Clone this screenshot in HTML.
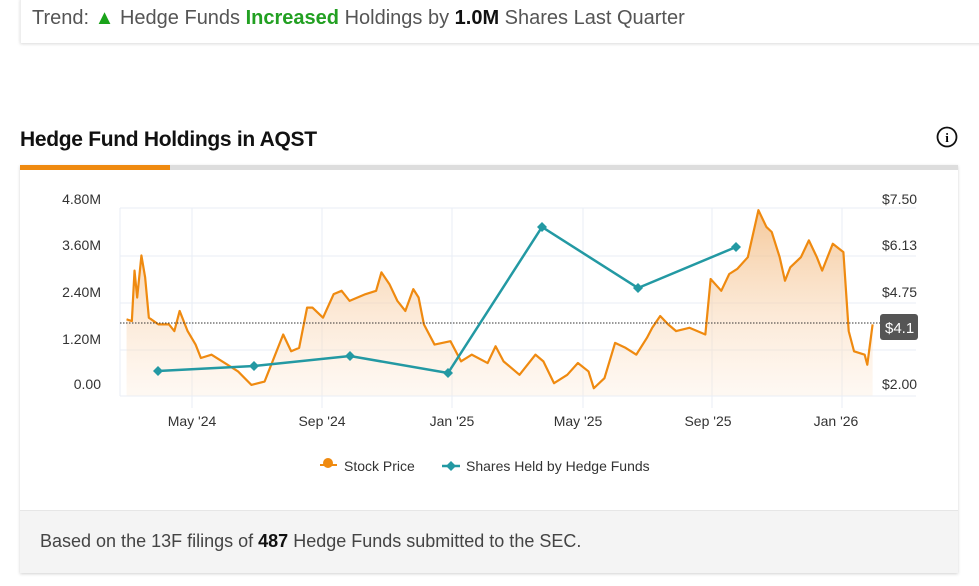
<!DOCTYPE html>
<html><head><style>
body{margin:0;width:979px;height:586px;background:#fff;font-family:"Liberation Sans",sans-serif;position:relative;overflow:hidden}
.top{position:absolute;left:20px;top:-2px;width:980px;height:45px;background:#fff;box-shadow:0 1px 3px rgba(0,0,0,.15);border-left:1px solid #eee}
.top span.t{position:absolute;left:11px;top:9px;font-size:20px;color:#555}
.card{position:absolute;left:20px;top:165px;width:938px;height:408px;background:#fff;box-shadow:0 1px 3px rgba(0,0,0,.18)}
.foot{position:absolute;left:0;bottom:0;width:100%;height:62px;background:#f4f4f4;border-top:1px solid #e6e6e6}
.foot span{position:absolute;left:20px;top:20px;font-size:18px;color:#444}
h2{position:absolute;left:20px;top:128px;margin:0;font-size:21px;font-weight:bold;color:#111;letter-spacing:-0.3px}
</style></head><body>
<div class="top"><span class="t">Trend: <span style="color:#1aa31a">▲</span> Hedge Funds <b style="color:#22a022">Increased</b> Holdings by <b style="color:#111">1.0M</b> Shares Last Quarter</span></div>
<h2>Hedge Fund Holdings in AQST</h2>
<svg style="position:absolute;left:936px;top:126px" width="22" height="22"><circle cx="11" cy="11" r="9.5" fill="none" stroke="#111" stroke-width="1.8"/><text x="11" y="16" text-anchor="middle" font-size="13" font-weight="bold" font-family="Liberation Serif">i</text></svg>
<div class="card"><div class="foot"><span>Based on the 13F filings of <b style="color:#111">487</b> Hedge Funds submitted to the SEC.</span></div></div>
<svg style="position:absolute;left:0;top:0" width="979" height="586" font-family="Liberation Sans">
<defs><linearGradient id="g" x1="0" y1="0" x2="0" y2="1"><stop offset="0" stop-color="#f2b77a" stop-opacity=".75"/><stop offset="1" stop-color="#fde9d6" stop-opacity=".3"/></linearGradient></defs>
<rect x="20" y="165" width="938" height="5" fill="#ddd"/><rect x="20" y="165" width="150" height="5" fill="#ef8a10"/>
<g stroke="#e8eef6" stroke-width="1">
<line x1="120" y1="208" x2="916" y2="208"/><line x1="120" y1="256" x2="916" y2="256"/><line x1="120" y1="303" x2="916" y2="303"/><line x1="120" y1="350" x2="916" y2="350"/><line x1="120" y1="396" x2="916" y2="396"/>
<line x1="120" y1="208" x2="120" y2="396"/><line x1="192" y1="208" x2="192" y2="408"/><line x1="322" y1="208" x2="322" y2="408"/><line x1="452" y1="208" x2="452" y2="408"/><line x1="583" y1="208" x2="583" y2="408"/><line x1="712" y1="208" x2="712" y2="408"/><line x1="842" y1="208" x2="842" y2="408"/>
</g>
<g transform="translate(100,190) scale(0.531,0.336)">
<path fill="url(#g)" d="M50,612 L50,385 60,390 65,240 70,320 78,195 85,260 92,380 110,400 130,400 140,420 150,360 165,420 180,460 190,500 210,490 240,520 260,540 285,580 310,570 320,530 345,430 360,480 375,470 390,350 400,350 420,380 440,310 455,300 470,330 500,310 520,300 530,245 545,280 560,330 575,360 590,295 600,320 610,400 630,460 660,450 680,510 700,490 730,515 745,465 760,510 790,550 820,490 835,510 855,575 880,550 900,515 920,540 930,590 950,560 970,455 990,470 1010,490 1030,440 1040,410 1055,375 1070,400 1085,420 1110,410 1140,430 1150,265 1170,300 1185,250 1200,235 1220,200 1240,60 1255,110 1265,125 1280,200 1290,270 1300,230 1320,200 1335,150 1350,200 1360,240 1380,160 1400,185 1410,420 1420,480 1440,490 1445,520 1455,400 L1455,612Z"/>
<polyline fill="none" stroke="#ef8a10" stroke-width="2.2" vector-effect="non-scaling-stroke" stroke-linejoin="round" points="50,385 60,390 65,240 70,320 78,195 85,260 92,380 110,400 130,400 140,420 150,360 165,420 180,460 190,500 210,490 240,520 260,540 285,580 310,570 320,530 345,430 360,480 375,470 390,350 400,350 420,380 440,310 455,300 470,330 500,310 520,300 530,245 545,280 560,330 575,360 590,295 600,320 610,400 630,460 660,450 680,510 700,490 730,515 745,465 760,510 790,550 820,490 835,510 855,575 880,550 900,515 920,540 930,590 950,560 970,455 990,470 1010,490 1030,440 1040,410 1055,375 1070,400 1085,420 1110,410 1140,430 1150,265 1170,300 1185,250 1200,235 1220,200 1240,60 1255,110 1265,125 1280,200 1290,270 1300,230 1320,200 1335,150 1350,200 1360,240 1380,160 1400,185 1410,420 1420,480 1440,490 1445,520 1455,400"/>
</g>
<line x1="120" y1="323" x2="880" y2="323" stroke="#333" stroke-dasharray="1.5,1.5" stroke-width="1"/>
<polyline fill="none" stroke="#2399a3" stroke-width="2.5" points="158,371 254,366 350,356 448,373 542,227 638,288 736,247"/>
<g fill="#2399a3"><path d="M158,366l5,5-5,5-5-5z"/><path d="M254,361l5,5-5,5-5-5z"/><path d="M350,351l5,5-5,5-5-5z"/><path d="M448,368l5,5-5,5-5-5z"/><path d="M542,222l5,5-5,5-5-5z"/><path d="M638,283l5,5-5,5-5-5z"/><path d="M736,242l5,5-5,5-5-5z"/></g>
<g font-size="14" fill="#333">
<text x="101" y="204" text-anchor="end">4.80M</text><text x="101" y="250" text-anchor="end">3.60M</text><text x="101" y="297" text-anchor="end">2.40M</text><text x="101" y="344" text-anchor="end">1.20M</text><text x="101" y="389" text-anchor="end">0.00</text>
<text x="882" y="204">$7.50</text><text x="882" y="250">$6.13</text><text x="882" y="297">$4.75</text><text x="882" y="389">$2.00</text>
<text x="192" y="426" text-anchor="middle">May '24</text><text x="322" y="426" text-anchor="middle">Sep '24</text><text x="452" y="426" text-anchor="middle">Jan '25</text><text x="578" y="426" text-anchor="middle">May '25</text><text x="708" y="426" text-anchor="middle">Sep '25</text><text x="836" y="426" text-anchor="middle">Jan '26</text>
<text x="344" y="471">Stock Price</text><text x="466" y="471">Shares Held by Hedge Funds</text>
</g>
<rect x="880" y="314" width="38" height="26" rx="3" fill="#555"/><text x="885" y="333" font-size="15" fill="#fff">$4.1</text>
<line x1="320" y1="465" x2="337" y2="465" stroke="#ef8a10" stroke-width="2"/><circle cx="328" cy="463" r="5" fill="#ef8a10"/>
<line x1="442" y1="466" x2="460" y2="466" stroke="#2399a3" stroke-width="2.5"/><path d="M451,461l5,5-5,5-5-5z" fill="#2399a3"/>
</svg>
</body></html>
